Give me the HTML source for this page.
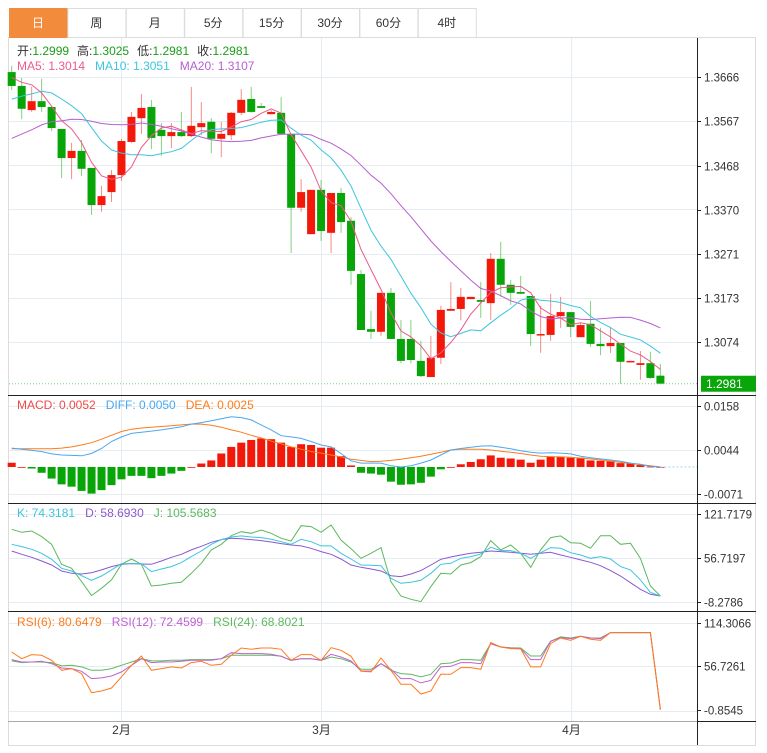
<!DOCTYPE html>
<html><head><meta charset="utf-8">
<style>
html,body{margin:0;padding:0;background:#fff;width:767px;height:753px;overflow:hidden}
svg{display:block;font-family:"Liberation Sans","Noto Sans CJK SC",sans-serif}
</style></head>
<body>
<svg id="chart" width="767" height="753" viewBox="0 0 767 753" xmlns="http://www.w3.org/2000/svg">
  <rect x="8.5" y="37.5" width="747" height="708" fill="#fff" stroke="#dcdcdc"/>
  <g id="tabs"></g>
  <g id="grid"></g>
  <g id="marks"></g>
  <g id="axes"></g>
  <g id="legends" font-size="12">
    <text x="17" y="55"><tspan fill="#333">开:</tspan><tspan fill="#1a9e1a">1.2999</tspan><tspan fill="#333" dx="8">高:</tspan><tspan fill="#1a9e1a">1.3025</tspan><tspan fill="#333" dx="8">低:</tspan><tspan fill="#1a9e1a">1.2981</tspan><tspan fill="#333" dx="8">收:</tspan><tspan fill="#1a9e1a">1.2981</tspan></text>
    <text x="17" y="70"><tspan fill="#ec5a8a">MA5: 1.3014</tspan><tspan fill="#3cc6de" dx="10">MA10: 1.3051</tspan><tspan fill="#b75ed0" dx="10">MA20: 1.3107</tspan></text>
    <text x="17" y="409"><tspan fill="#f04848">MACD: 0.0052</tspan><tspan fill="#4aa8f0" dx="10">DIFF: 0.0050</tspan><tspan fill="#ff7a1a" dx="10">DEA: 0.0025</tspan></text>
    <text x="17" y="517"><tspan fill="#3bc4df">K: 74.3181</tspan><tspan fill="#8a58d0" dx="10">D: 58.6930</tspan><tspan fill="#5cb85c" dx="10">J: 105.5683</tspan></text>
    <text x="17" y="626"><tspan fill="#ff7a1a">RSI(6): 80.6479</tspan><tspan fill="#c060d0" dx="10">RSI(12): 72.4599</tspan><tspan fill="#60b860" dx="10">RSI(24): 68.8021</tspan></text>
  </g>
</svg>
<script>
// ---- data ----
const tabLabels = ["日","周","月","5分","15分","30分","60分","4时"];
const opens = [1.3677,1.3646,1.3592,1.3612,1.3599,1.3550,1.3485,1.3501,1.3463,1.3380,
1.3409,1.3447,1.3521,1.3574,1.3599,1.3548,1.3534,1.3543,1.3534,1.3554,
1.3566,1.3528,1.3536,1.3586,1.3617,1.3601,1.3583,1.3586,1.3539,1.3374,
1.3315,1.3414,1.3318,1.3407,1.3345,1.3226,1.3103,1.3097,1.3184,1.3081,
1.3081,1.3032,1.2996,1.3039,1.3144,1.3148,1.3170,1.3168,1.3161,1.3260,
1.3202,1.3186,1.3177,1.3090,1.3090,1.3132,1.3141,1.3085,1.3115,1.3070,
1.3065,1.3072,1.3030,1.3023,1.3027,1.2999];
const closes = [1.3646,1.3595,1.3612,1.3599,1.3552,1.3485,1.3501,1.3461,1.3380,1.3400,
1.3447,1.3523,1.3577,1.3597,1.3530,1.3534,1.3543,1.3534,1.3557,1.3563,
1.3528,1.3539,1.3586,1.3615,1.3588,1.3597,1.3588,1.3539,1.3374,1.3409,
1.3414,1.3322,1.3407,1.3342,1.3233,1.3101,1.3097,1.3184,1.3081,1.3032,
1.3034,1.2998,1.3039,1.3146,1.3148,1.3175,1.3175,1.3164,1.3260,1.3202,
1.3184,1.3182,1.3092,1.3092,1.3132,1.3141,1.3108,1.3112,1.3070,1.3065,
1.3072,1.3030,1.3032,1.3027,1.2994,1.2981];
const highs = [1.3691,1.3664,1.3644,1.3662,1.3601,1.3550,1.3519,1.3525,1.3463,1.3423,
1.3458,1.3528,1.3588,1.3628,1.3615,1.3563,1.3563,1.3588,1.3644,1.3610,
1.3574,1.3566,1.3588,1.3639,1.3644,1.3608,1.3592,1.3621,1.3539,1.3438,
1.3414,1.3436,1.3407,1.3418,1.3353,1.3235,1.3144,1.3184,1.3195,1.3123,
1.3123,1.3077,1.3088,1.3155,1.3208,1.3195,1.3175,1.3208,1.3273,1.3298,
1.3213,1.3222,1.3177,1.3155,1.3182,1.3175,1.3141,1.3117,1.3166,1.3106,
1.3108,1.3072,1.3032,1.3054,1.3052,1.3025];
const lows = [1.3637,1.3572,1.3588,1.3588,1.3545,1.3440,1.3438,1.3445,1.3358,1.3365,
1.3387,1.3434,1.3519,1.3539,1.3505,1.3490,1.3507,1.3532,1.3532,1.3536,
1.3496,1.3487,1.3525,1.3581,1.3586,1.3597,1.3583,1.3539,1.3273,1.3365,
1.3315,1.3300,1.3273,1.3318,1.3202,1.3101,1.3081,1.3088,1.3081,1.3027,
1.3027,1.2996,1.2996,1.3025,1.3144,1.3123,1.3170,1.3128,1.3123,1.3175,
1.3157,1.3182,1.3065,1.3050,1.3077,1.3106,1.3085,1.3085,1.3063,1.3045,
1.3050,1.2981,1.3030,1.2990,1.2992,1.2981];
const prevCloses = [1.3400,1.3420,1.3380,1.3410,1.3450,1.3430,1.3470,1.3460,1.3500,1.3490,
1.3530,1.3560,1.3540,1.3590,1.3620,1.3650,1.3640,1.3690,1.3700];
const macdBars = [0.0011,0.0000,-0.0004,-0.0015,-0.0030,-0.0045,-0.0051,-0.0062,-0.0069,-0.0060,
-0.0047,-0.0032,-0.0023,-0.0023,-0.0029,-0.0023,-0.0017,-0.0010,0.0000,0.0009,
0.0017,0.0035,0.0052,0.0063,0.0070,0.0074,0.0072,0.0063,0.0052,0.0059,
0.0057,0.0050,0.0050,0.0028,0.0004,-0.0015,-0.0017,-0.0020,-0.0038,-0.0046,
-0.0045,-0.0041,-0.0025,-0.0006,0.0000,0.0007,0.0013,0.0020,0.0030,0.0024,
0.0022,0.0019,0.0011,0.0019,0.0026,0.0026,0.0024,0.0024,0.0017,0.0016,
0.0016,0.0010,0.0009,0.0005,0.0001,0.0000];
const diff = [0.0049,0.0046,0.0043,0.0040,0.0034,0.0031,0.0030,0.0029,0.0035,0.0048,
0.0066,0.0078,0.0087,0.0090,0.0093,0.0096,0.0100,0.0104,0.0111,0.0115,
0.0120,0.0125,0.0130,0.0128,0.0122,0.0109,0.0096,0.0081,0.0078,0.0074,
0.0066,0.0057,0.0052,0.0035,0.0016,0.0010,0.0010,0.0010,0.0003,0.0000,
0.0003,0.0010,0.0018,0.0031,0.0044,0.0048,0.0051,0.0054,0.0055,0.0051,
0.0047,0.0042,0.0038,0.0036,0.0037,0.0036,0.0034,0.0028,0.0024,0.0021,
0.0018,0.0015,0.0010,0.0007,0.0002,0.0000];
const dea = [0.0047,0.0047,0.0047,0.0047,0.0047,0.0049,0.0052,0.0057,0.0063,0.0072,
0.0082,0.0092,0.0098,0.0101,0.0103,0.0105,0.0107,0.0109,0.0111,0.0111,
0.0108,0.0103,0.0096,0.0090,0.0082,0.0075,0.0067,0.0060,0.0052,0.0046,
0.0040,0.0036,0.0031,0.0026,0.0020,0.0017,0.0014,0.0015,0.0017,0.0020,
0.0024,0.0028,0.0033,0.0038,0.0044,0.0046,0.0046,0.0046,0.0044,0.0041,
0.0038,0.0035,0.0031,0.0028,0.0027,0.0026,0.0025,0.0023,0.0021,0.0018,
0.0015,0.0012,0.0009,0.0006,0.0003,0.0000];
const kVals = [77.3,73.9,69.9,64.1,55.2,42.0,38.1,31.2,24.4,30.7,
39.6,48.9,48.9,48.9,37.1,41.0,44.5,50.4,59.2,67.5,
77.3,84.2,88.1,89.6,88.1,87.1,84.7,81.2,77.3,84.7,
81.2,74.9,74.9,64.1,55.7,46.9,46.4,45.9,27.3,20.0,
21.4,24.4,34.7,47.9,49.4,56.7,59.2,63.1,72.9,68.0,
68.0,64.1,56.7,65.0,72.4,71.4,65.0,61.6,56.7,59.2,
55.7,44.5,39.6,24.9,6.7,1.3];
const dVals = [67.5,62.6,58.2,52.8,46.9,38.1,34.7,33.7,35.6,39.6,
44.5,47.9,48.9,48.4,47.9,52.8,58.2,62.6,69.0,74.4,
80.2,84.2,86.1,85.6,84.2,82.7,80.7,78.3,76.3,74.9,
71.4,66.5,62.6,55.7,46.9,43.5,41.0,38.1,31.2,29.8,
33.7,38.6,46.9,55.2,58.7,61.6,64.1,65.5,67.5,66.5,
65.5,64.1,62.6,64.1,65.5,61.6,58.2,54.3,50.8,45.9,
38.6,30.7,20.9,11.2,3.8,1.3];
const jVals = [99.4,94.9,96.9,88.6,77.3,47.9,42.0,22.4,1.8,12.6,
24.9,47.9,55.7,47.9,16.0,17.5,20.0,21.4,34.7,49.4,
69.0,77.3,90.0,95.9,93.5,98.4,93.5,86.1,82.2,104.7,
103.3,94.9,105.7,83.7,70.9,56.7,64.1,72.4,22.4,1.3,
-3.6,-7.0,15.1,34.7,33.7,46.9,50.4,59.2,82.7,69.0,
76.3,64.1,43.5,69.0,87.1,89.6,79.7,78.8,71.4,90.0,
90.0,77.3,78.8,56.7,16.0,1.3];
const rsi6 = [75.6,66.8,72.1,71.2,64.6,51.5,53.7,47.1,22.0,24.2,
28.2,42.7,58.0,70.3,51.5,53.7,55.9,54.5,61.6,63.3,
58.0,59.4,71.2,80.9,79.1,80.9,80.9,79.1,64.6,72.1,
72.1,64.6,81.3,77.8,69.9,50.1,49.3,67.7,51.5,33.0,
33.0,20.3,24.2,46.2,46.2,55.0,55.0,52.8,87.9,82.2,
80.0,79.6,55.9,55.9,86.6,94.0,91.0,96.2,92.3,91.0,
101.1,101.1,101.1,101.1,101.1,-0.3];
const rsi12 = [65.5,62.4,62.4,63.3,60.2,54.5,53.7,50.1,40.5,41.4,
44.0,49.3,58.0,66.8,61.6,62.4,62.4,63.3,64.6,64.6,
64.6,66.8,74.7,73.4,73.4,73.4,72.5,69.9,64.6,66.8,
66.8,64.6,72.5,69.0,63.8,50.6,50.6,60.2,52.8,40.5,
40.5,34.8,38.3,55.9,56.7,61.6,61.6,60.2,86.6,82.2,
80.9,80.0,65.5,65.5,89.7,94.5,93.2,96.2,94.0,93.2,
101.1,101.1,101.1,101.1,101.1,-0.3];
const rsi24 = [63.8,61.6,62.4,62.4,61.6,57.2,58.0,55.9,51.5,51.5,
53.7,58.0,62.4,66.8,63.8,63.8,64.6,64.6,65.5,65.5,
65.5,66.8,71.2,71.2,71.2,71.2,71.2,69.9,64.6,66.8,
66.8,64.6,69.0,66.8,62.4,52.8,52.8,60.2,51.5,47.1,
46.2,42.7,46.2,60.2,61.1,65.5,65.5,64.6,86.6,82.2,
81.3,80.9,70.3,70.3,89.7,95.4,94.0,96.2,94.0,94.0,
101.1,101.1,101.1,101.1,101.1,-0.3];
const priceTicks = ["1.3666","1.3567","1.3468","1.3370","1.3271","1.3173","1.3074"];
const macdTicks = ["0.0158","0.0044","-0.0071"];
const kdjTicks = ["121.7179","56.7197","-8.2786"];
const rsiTicks = ["114.3066","56.7261","-0.8545"];
const monthLabels = ["2月","3月","4月"];
const monthIndex = [11,31,56];
const lastPrice = 1.2981;

// ---- scales ----
const NS = "http://www.w3.org/2000/svg";
const X0 = 11.7, DX = 9.98, RIGHT = 697;
const xOf = i => X0 + i * DX;
const yPrice = p => 77 + (1.3666 - p) * 4478;
const yMacd = v => 450 - (v - 0.0044) * 3860;
const yKdj = v => 558.3 - (v - 56.72) * 0.680;
const yRsi = v => 666.3 - (v - 56.73) * 0.759;
const RED = "#f2190a", GREEN = "#08a508";

function el(tag, attrs, parent) {
  const e = document.createElementNS(NS, tag);
  for (const k in attrs) e.setAttribute(k, attrs[k]);
  parent.appendChild(e);
  return e;
}
const gTabs = document.getElementById("tabs");
const gGrid = document.getElementById("grid");
const gMarks = document.getElementById("marks");
const gAxes = document.getElementById("axes");

// tabs
tabLabels.forEach((t, i) => {
  const x = 9 + i * 58.4;
  const r = el("rect", {x: x + 0.5, y: 8.5, width: 58, height: 29, fill: i === 0 ? "#f28b3c" : "#fff", stroke: i === 0 ? "#f28b3c" : "#dcdcdc"}, gTabs);
  
  
  const tx = el("text", {x: x + 29, y: 27, "text-anchor": "middle", "font-size": "12", fill: i === 0 ? "#fff" : "#333"}, gTabs);
  tx.textContent = t;
  
  
});

// horizontal grid
const hGrid = [77,121,165,209,254,298,342, 406,450,494, 514,558,602, 623,666,711];
hGrid.forEach(y => {
  const l = el("line", {x1: 9, x2: RIGHT, y1: y + 0.5, y2: y + 0.5, stroke: "#e6edf2"}, gGrid);
  
  
});
monthIndex.forEach((idx, k) => {
  const x = Math.round(xOf(idx)) + 0.5;
  const l = el("line", {x1: x, x2: x, y1: 38, y2: 721, stroke: "#e6edf2"}, gGrid);
  
  
  const t = el("text", {x: x, y: 734, "text-anchor": "middle", "font-size": "12", fill: "#333"}, gAxes);
  t.textContent = monthLabels[k];
  
  
});

// candles
for (let i = 0; i < closes.length; i++) {
  const up = closes[i] >= opens[i];
  const c = up ? RED : GREEN;
  const x = xOf(i);
  const w = el("line", {x1: x, x2: x, y1: yPrice(highs[i]), y2: yPrice(lows[i]), stroke: c, "stroke-opacity": 0.5, "stroke-width": 1}, gMarks);
  
  
  const yt = yPrice(Math.max(opens[i], closes[i])), yb = yPrice(Math.min(opens[i], closes[i]));
  const b = el("rect", {x: x - 4, y: yt, width: 8, height: Math.max(1.5, yb - yt), fill: c}, gMarks);
  
  
}

// moving averages
const allCloses = prevCloses.concat(closes);
function ma(n) {
  const out = [];
  for (let i = 0; i < closes.length; i++) {
    const end = i + prevCloses.length;
    let s = 0, cnt = 0;
    for (let j = Math.max(0, end - n + 1); j <= end; j++) { s += allCloses[j]; cnt++; }
    out.push(s / cnt);
  }
  return out;
}
function polyline(vals, yf, color, name, width) {
  const pts = vals.map((v, i) => xOf(i).toFixed(1) + "," + yf(v).toFixed(1)).join(" ");
  const p = el("polyline", {points: pts, fill: "none", stroke: color, "stroke-width": width || 1}, gMarks);
  
  
}
polyline(ma(20), yPrice, "#b75ed0", "ma20-line");
polyline(ma(10), yPrice, "#3cc6de", "ma10-line");
polyline(ma(5), yPrice, "#ec5a8a", "ma5-line");

// last price
const yl = yPrice(lastPrice);
const dl = el("line", {x1: 9, x2: RIGHT, y1: yl, y2: yl, stroke: "#7fcf7f", "stroke-dasharray": "1,2"}, gMarks);


const lb = el("rect", {x: 701, y: yl - 8, width: 55, height: 16, fill: "#09a60a"}, gAxes);


const lt = el("text", {x: 706, y: yl + 4.5, "font-size": "12", fill: "#fff"}, gAxes);
lt.textContent = lastPrice.toFixed(4);



// MACD
const y0 = yMacd(0);
macdBars.forEach((v, i) => {
  const x = xOf(i);
  const yv = yMacd(v);
  const r = el("rect", {x: x - 4, y: Math.min(yv, y0), width: 8, height: Math.max(0.8, Math.abs(yv - y0)), fill: v >= 0 ? RED : GREEN}, gMarks);
  
  
});
const zl = el("line", {x1: xOf(macdBars.length - 1), x2: RIGHT, y1: y0, y2: y0, stroke: "#9fd3e8", "stroke-dasharray": "2,2"}, gMarks);


polyline(dea, yMacd, "#ff7a1a", "dea-line");
polyline(diff, yMacd, "#4aa8f0", "diff-line");

// KDJ
polyline(jVals, yKdj, "#5cb85c", "j-line");
polyline(dVals, yKdj, "#8a58d0", "d-line");
polyline(kVals, yKdj, "#3bc4df", "k-line");

// RSI
polyline(rsi24, yRsi, "#60b860", "rsi24-line");
polyline(rsi12, yRsi, "#c060d0", "rsi12-line");
polyline(rsi6, yRsi, "#ff7a1a", "rsi6-line");
polyline([rsi24[64], rsi24[65]].map(v=>v), v=>v, "none", "unused");

// separators & axes
[395.5, 503.5, 611.5].forEach(y => {
  const l = el("line", {x1: 8, x2: 756, y1: y, y2: y, stroke: "#222"}, gAxes);
  
  
});
const xa = el("line", {x1: 8, x2: RIGHT, y1: 721.5, y2: 721.5, stroke: "#aaa"}, gAxes);


const xa2 = el("line", {x1: RIGHT, x2: 756, y1: 721.5, y2: 721.5, stroke: "#222"}, gAxes);


const ya = el("line", {x1: RIGHT + 0.5, x2: RIGHT + 0.5, y1: 38, y2: 745, stroke: "#222"}, gAxes);



function ticks(labels, ys, name) {
  labels.forEach((t, i) => {
    const y = ys[i];
    const m = el("line", {x1: RIGHT, x2: RIGHT + 4, y1: y + 0.5, y2: y + 0.5, stroke: "#222"}, gAxes);
    
    
    const tx = el("text", {x: 704, y: y + 4.5, "font-size": "11.5", fill: "#333"}, gAxes);
    tx.textContent = t;
    
    
  });
}
ticks(priceTicks, priceTicks.map(t => Math.round(yPrice(parseFloat(t)))), "price");
ticks(macdTicks, macdTicks.map(t => Math.round(yMacd(parseFloat(t)))), "macd");
ticks(kdjTicks, kdjTicks.map(t => Math.round(yKdj(parseFloat(t)))), "kdj");
ticks(rsiTicks, rsiTicks.map(t => Math.round(yRsi(parseFloat(t)))), "rsi");
</script>
</body></html>
